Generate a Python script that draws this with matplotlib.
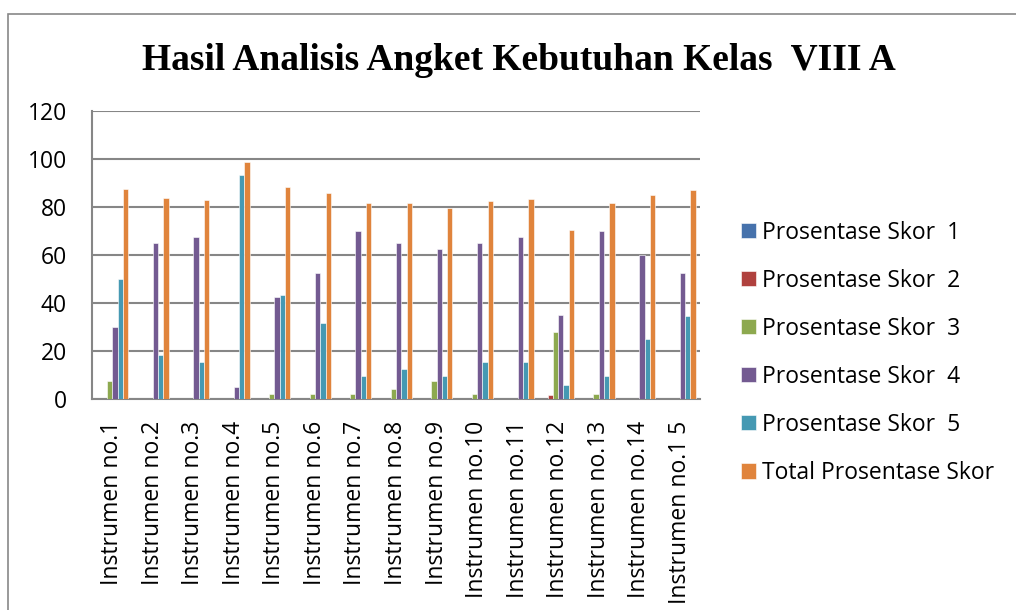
import matplotlib.pyplot as plt
import numpy as np
from matplotlib.patches import Rectangle

# Instrument labels
categories = ['Instrumen no.%d' % i for i in range(1, 15)] + ['Instrumen no.1 5']

# Percentage per score
skor_1 = [0, 0, 0, 0, 0, 0, 0, 0, 0, 0, 0, 0, 0, 0, 0]
skor_2 = [0, 0, 0, 0, 0, 0, 0, 0, 0, 0, 0, 1.5, 0, 0, 0]
skor_3 = [7.5, 0, 0, 0, 2, 2, 2, 4, 7.5, 2, 0, 28, 2, 0, 0]
skor_4 = [30, 65, 67.5, 5, 42.5, 52.5, 70, 65, 62.5, 65, 67.5, 35, 70, 60, 52.5]
skor_5 = [50, 18.5, 15.5, 93.5, 43.5, 31.5, 9.5, 12.5, 9.5, 15.5, 15.5, 6, 9.5, 25, 34.5]
total = [87.5, 83.7, 83, 98.7, 88.2, 85.8, 81.5, 81.5, 79.5, 82.5, 83.3, 70.5, 81.5, 85.2, 87]

series_names = ['Prosentase Skor  1', 'Prosentase Skor  2', 'Prosentase Skor  3',
                'Prosentase Skor  4', 'Prosentase Skor  5', 'Total Prosentase Skor']
colors = ['#4672AC', '#B0413E', '#8DA94F', '#735A91', '#4599B3', '#E0843C']

fig = plt.figure(figsize=(10.16, 6.1), dpi=100)
ax = fig.add_axes([92 / 1016, 1 - 399 / 610, (700 - 92) / 1016, (399 - 111) / 610])

# outer chart border
fig.patches.append(Rectangle((8 / 1016, -0.1), 1.2, 1 - 14 / 610 + 0.1, transform=fig.transFigure,
                             fill=False, edgecolor='#888888', linewidth=1.2))

x = np.arange(len(categories))
width = 0.131
data = [skor_1, skor_2, skor_3, skor_4, skor_5, total]
for i, (vals, name, c) in enumerate(zip(data, series_names, colors)):
    ax.bar(x + (i - 2.5) * width, vals, width, color=c, label=name,
           edgecolor='white', linewidth=0.4, zorder=3)

ax.set_xlim(-0.5, len(categories) - 0.5)
ax.set_ylim(0, 120)
ax.set_yticks(range(0, 121, 20))
ax.grid(axis='y', color='#868686', linewidth=1.5, zorder=0)
ax.set_xticks(x)
ax.set_xticklabels(categories, rotation=90, fontsize=16.5, family='Open Sans')
for lab in ax.get_yticklabels():
    lab.set_family('Open Sans')
    lab.set_fontsize(16.5)
ax.tick_params(axis='x', length=0, pad=16)
ax.tick_params(axis='y', length=0, pad=18)
for s in ['top', 'right']:
    ax.spines[s].set_visible(False)
ax.spines['left'].set_color('#868686')
ax.spines['bottom'].set_color('#868686')
ax.spines['left'].set_linewidth(1.5)
ax.spines['bottom'].set_linewidth(1.5)

fig.text(519 / 1016, 1 - 60 / 610, 'Hasil Analisis Angket Kebutuhan Kelas  VIII A',
         ha='center', va='center', fontsize=27, fontweight='bold', family='Liberation Serif')

leg = fig.legend(loc='upper left', bbox_to_anchor=(720 / 1016, 1 - 200 / 610),
                 frameon=False, prop={'family': 'Open Sans', 'size': 16.5},
                 handlelength=0.65, handleheight=0.65, handletextpad=0.3, labelspacing=1.05)

fig.savefig('out.png', dpi=100)
